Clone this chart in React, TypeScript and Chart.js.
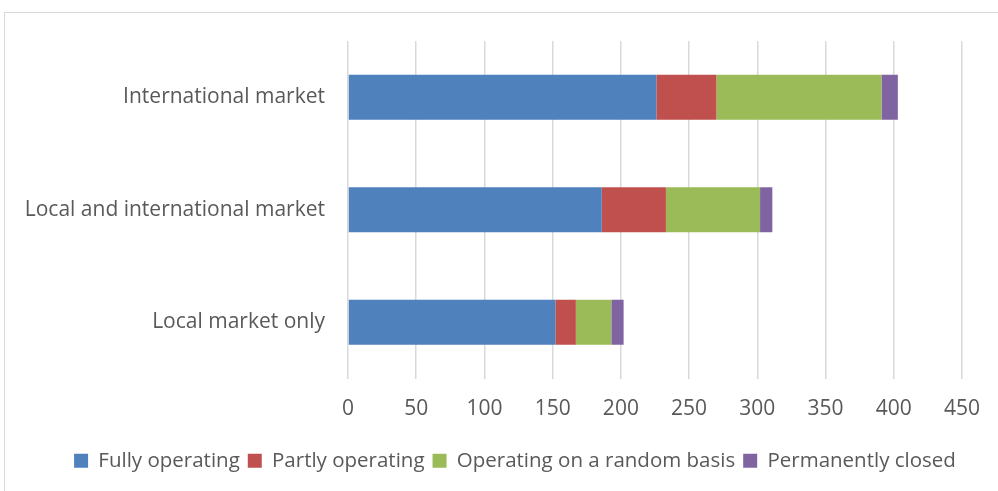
import React, { useEffect, useRef } from "react";
import { Chart, registerables } from "chart.js";

Chart.register(...registerables);

const categories = ["International market", "Local and international market", "Local market only"];
const fullyOperating = [226, 186, 152];
const partlyOperating = [44, 47, 15];
const randomBasis = [121, 69, 26];
const permanentlyClosed = [12, 9, 9];
const seriesNames = ["Fully operating", "Partly operating", "Operating on a random basis", "Permanently closed"];
const colors = ["#4f81bd", "#c0504d", "#9bbb59", "#8064a2"];

const legendShift = {
  id: "legendShift",
  afterLayout(chart: any) {
    const lg = chart.legend;
    if (lg) {
      lg.left += 33;
      lg.right += 33;
    }
  },
};

export default function App() {
  const ref = useRef<HTMLCanvasElement | null>(null);
  useEffect(() => {
    if (!ref.current) return;
    const font = { family: "'Open Sans', sans-serif", size: 21 };
    const legendFont = { family: "'Open Sans', sans-serif", size: 20.5 };
    const values = [fullyOperating, partlyOperating, randomBasis, permanentlyClosed];
    const chart = new Chart(ref.current, {
      type: "bar",
      data: {
        labels: categories,
        datasets: values.map((d, i) => ({
          label: seriesNames[i],
          data: d,
          backgroundColor: colors[i],
          borderWidth: 0,
          barPercentage: 1,
          categoryPercentage: 0.4,
        })),
      },
      plugins: [legendShift],
      options: {
        indexAxis: "y",
        animation: false,
        responsive: false,
        maintainAspectRatio: false,
        layout: { padding: { left: 0, right: 34, top: 41, bottom: 10 } },
        plugins: {
          tooltip: { enabled: false },
          legend: {
            position: "bottom",
            labels: {
              color: "#595959",
              font: legendFont,
              boxWidth: 14,
              boxHeight: 14,
              padding: 8,
            },
          },
        },
        scales: {
          x: {
            stacked: true,
            min: 0,
            max: 450,
            ticks: { stepSize: 50, color: "#595959", font, padding: 18 },
            grid: { color: "#d9d9d9", lineWidth: 1.5, drawTicks: false },
            border: { display: false },
            afterFit: (s: any) => { s.height = 64; },
          },
          y: {
            stacked: true,
            ticks: { color: "#595959", font, padding: 23 },
            grid: { display: false, drawTicks: false },
            border: { display: false },
            afterFit: (s: any) => { s.width = 348; },
          },
        },
      },
    });
    return () => chart.destroy();
  }, []);
  return (
    <div style={{ position: "fixed", left: 0, top: 0, width: 998, height: 491, background: "#fff" }}>
      <div style={{ position: "absolute", left: 4, top: 12, width: 1000, height: 500, border: "1px solid #d9d9d9", boxSizing: "border-box" }} />
      <canvas ref={ref} width={998} height={491} style={{ position: "absolute", left: 0, top: 0 }} />
    </div>
  );
}
